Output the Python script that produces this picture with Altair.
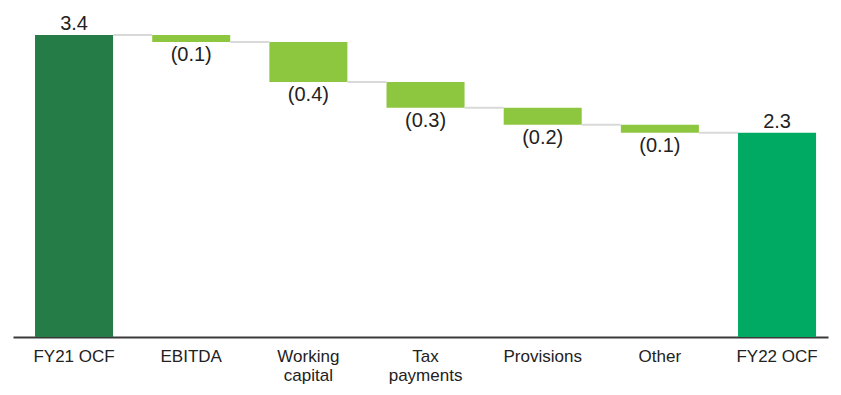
import altair as alt

categories = ["FY21 OCF", "EBITDA", "Working|capital", "Tax|payments", "Provisions", "Other", "FY22 OCF"]
values = [3.4, -0.08, -0.45, -0.29, -0.19, -0.09, 2.3]
labels = ["3.4", "(0.1)", "(0.4)", "(0.3)", "(0.2)", "(0.1)", "2.3"]
kinds = ["start", "step", "step", "step", "step", "step", "end"]

HALF = 0.333
rows = []
level = 0.0
for i, (c, v, l, k) in enumerate(zip(categories, values, labels, kinds)):
    if k in ("start", "end"):
        s, e = 0.0, v
    else:
        s, e = level, level + v
    level = e
    rows.append({"idx": float(i), "bx0": i - HALF, "bx1": i + HALF,
                 "cx0": i + HALF, "cx1": i + 1 - HALF,
                 "lo": round(s, 4), "hi": round(e, 4), "txt": l, "kind": k, "cat": c,
                 "last": 1 if i == len(categories) - 1 else 0})

data = alt.Data(values=rows)
XMIN, XMAX = -0.521, 6.435
xscale = alt.Scale(domain=[XMIN, XMAX], nice=False, zero=False)
yscale = alt.Scale(domain=[0, 3.58], nice=False)

base = alt.Chart(data)

bars = base.mark_bar().encode(
    x=alt.X("bx0:Q", scale=xscale, title=None,
            axis=alt.Axis(labels=False, ticks=False, grid=False, domainColor="#3a3a3a",
                          domainWidth=2, title=None)),
    x2="bx1:Q",
    y=alt.Y("lo:Q", scale=yscale, axis=None), y2="hi:Q",
    color=alt.Color("kind:N", scale=alt.Scale(domain=["start", "step", "end"],
                                               range=["#267c47", "#8dc63f", "#00aa63"]), legend=None))

connectors = base.transform_filter("datum.last == 0").transform_fold(
    ["cx0", "cx1"], as_=["side", "xpos"]).mark_line(color="#d9d9d9", strokeWidth=2).encode(
    x=alt.X("xpos:Q", scale=xscale), y=alt.Y("hi:Q", scale=yscale), detail="idx:N")

totals = base.transform_filter("datum.kind != 'step'").mark_text(
    font="Liberation Sans", fontSize=20, color="#222222", baseline="bottom", dy=-1).encode(
    x=alt.X("idx:Q", scale=xscale), y=alt.Y("hi:Q", scale=yscale), text="txt:N")

steps = base.transform_filter("datum.kind == 'step'").mark_text(
    font="Liberation Sans", fontSize=20, color="#222222", baseline="top", dy=3).encode(
    x=alt.X("idx:Q", scale=xscale), y=alt.Y("hi:Q", scale=yscale), text="txt:N")

catlabels = base.mark_text(
    font="Liberation Sans", fontSize=17, color="#222222", baseline="top", dy=12,
    lineBreak="|", lineHeight=19).encode(
    x=alt.X("idx:Q", scale=xscale), y=alt.datum(0), text="cat:N")

chart = alt.layer(bars, connectors, totals, steps, catlabels)
try:
    chart = chart.properties(width=815, height=318, view=alt.ViewBackground(strokeWidth=0))
except Exception:
    chart = chart.properties(width=815, height=318)

chart.save("out.html", embed_options={"renderer": "svg", "actions": False})
